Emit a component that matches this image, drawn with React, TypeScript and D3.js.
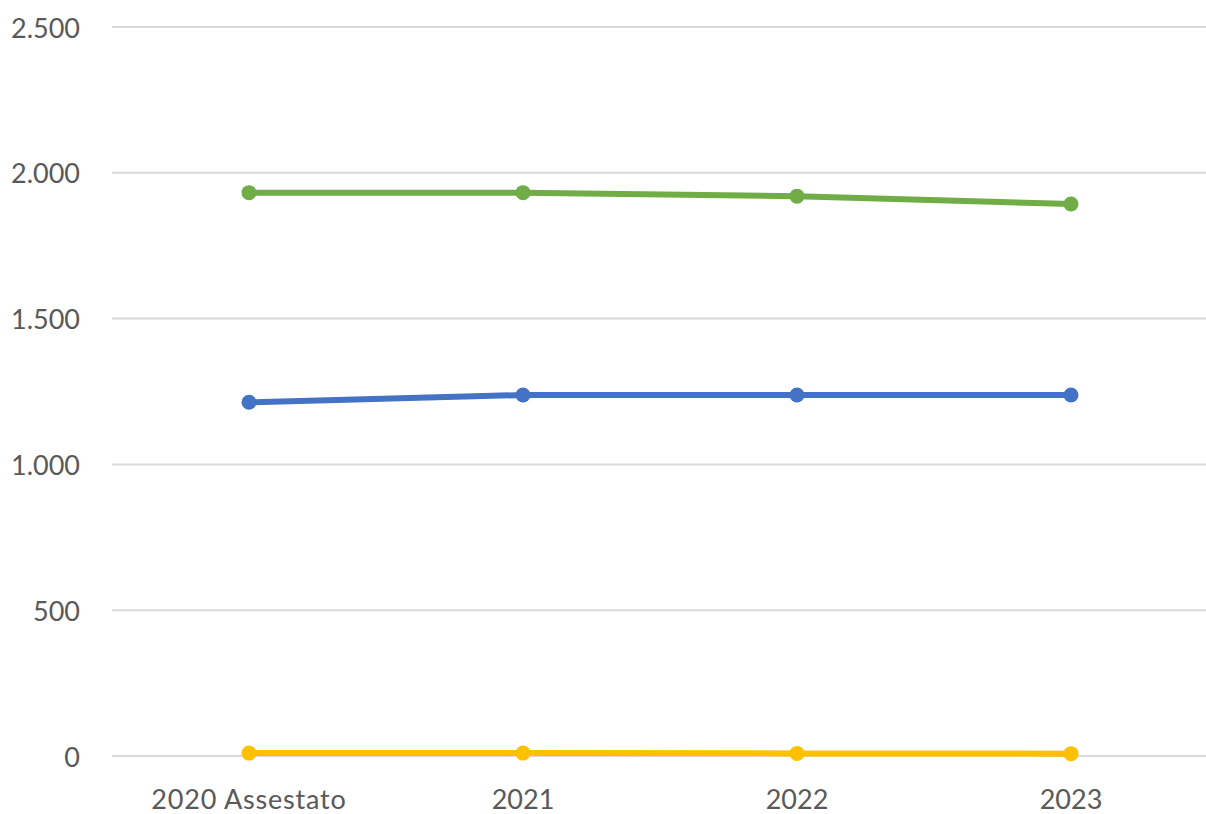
import React from "react";
import * as d3 from "d3";

const categories = ["2020 Assestato", "2021", "2022", "2023"];
const greenValues = [1932, 1932, 1920, 1893];
const blueValues = [1213, 1238, 1238, 1238];
const yellowValues = [10, 10, 9, 8];
const yTicks = [0, 500, 1000, 1500, 2000, 2500];

const series = [
  { name: "green", values: greenValues, color: "#70AD47" },
  { name: "blue", values: blueValues, color: "#4472C4" },
  { name: "yellow", values: yellowValues, color: "#FFC000" },
];

const W = 1206;
const H = 814;
const left = 112;
const right = 1208;
const top = 27;
const bottom = 756;

export default function App() {
  const x = d3.scaleBand<string>().domain(categories).range([left, right]).padding(0);
  const y = d3.scaleLinear().domain([0, 2500]).range([bottom, top]);
  const fmt = (v: number) => d3.format(",")(v).replace(/,/g, ".");
  const cx = (c: string) => (x(c) ?? 0) + x.bandwidth() / 2;
  const font = "Lato, 'Open Sans', sans-serif";

  return (
    <svg width={W} height={H} style={{ position: "absolute", left: 0, top: 0, background: "#fff" }}>
      {yTicks.map((t) => (
        <g key={t}>
          <line x1={left} x2={W} y1={y(t)} y2={y(t)} stroke="#D9D9D9" strokeWidth={2} />
          <text
            x={80}
            y={y(t)}
            textAnchor="end"
            dominantBaseline="central"
            fontFamily={font}
            fontSize={27}
            fill="#595959"
          >
            {fmt(t)}
          </text>
        </g>
      ))}
      {categories.map((c) => (
        <text
          key={c}
          x={cx(c)}
          y={798}
          textAnchor="middle"
          dominantBaseline="central"
          fontFamily={font}
          fontSize={27}
          fill="#595959"
          letterSpacing={c.length > 4 ? 0.8 : 0}
        >
          {c}
        </text>
      ))}
      {series.map((s) => {
        const line = d3
          .line<number>()
          .x((_, i) => cx(categories[i]))
          .y((v) => y(v));
        return (
          <g key={s.name}>
            <path d={line(s.values) ?? ""} fill="none" stroke={s.color} strokeWidth={6} strokeLinejoin="round" strokeLinecap="round" />
            {s.values.map((v, i) => (
              <circle key={i} cx={cx(categories[i])} cy={y(v)} r={7.5} fill={s.color} />
            ))}
          </g>
        );
      })}
    </svg>
  );
}
